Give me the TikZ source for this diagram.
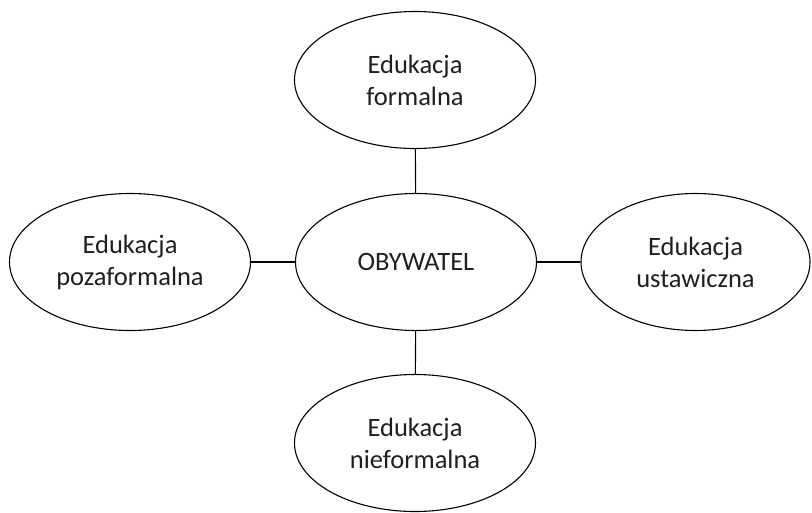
\documentclass[tikz,border=0pt]{standalone}
\usepackage{fontspec}
\setmainfont{Carlito}
\usetikzlibrary{shapes.geometric}
\begin{document}
\begin{tikzpicture}[x=1pt,y=-1pt,
  oval/.style={ellipse,draw=black,line width=1.1pt,minimum width=241pt,minimum height=137pt,inner sep=0pt,align=center,text=black!88,font=\fontsize{26.5}{32}\selectfont},
  link/.style={draw=black,line width=1.1pt}]
\useasboundingbox (0,0) rectangle (812,512);
\node[oval] (top) at (415,80) {Edukacja\\formalna};
\node[oval] (mid) at (416,262) {OBYWATEL};
\node[oval] (left) at (130,262) {Edukacja\\pozaformalna};
\node[oval,minimum width=229pt] (right) at (695.5,262) {Edukacja\\ustawiczna};
\node[oval] (bot) at (415,443) {Edukacja\\nieformalna};
\draw[link] (top) -- (mid);
\draw[link] (mid) -- (bot);
\draw[link] (left) -- (mid);
\draw[link] (mid) -- (right);
\end{tikzpicture}
\end{document}
